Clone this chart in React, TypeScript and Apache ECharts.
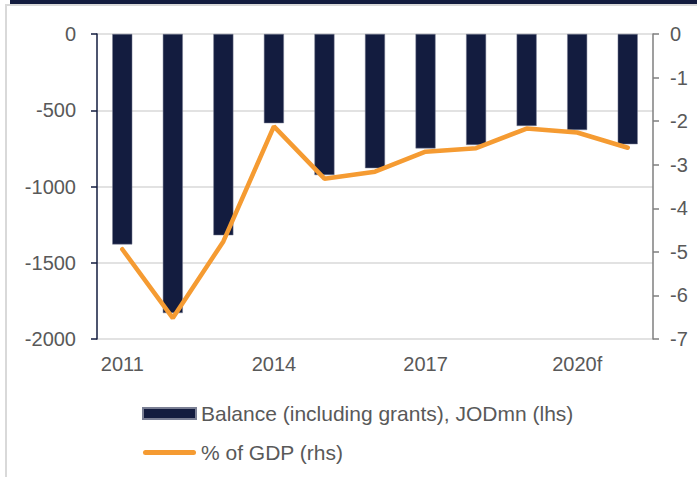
import React, { useEffect, useRef } from "react";
import * as echarts from "echarts";

const categories = ["2011", "2012", "2013", "2014", "2015", "2016", "2017", "2018", "2019", "2020f", "2021f"];
const balanceValues = [-1380, -1830, -1320, -585, -925, -880, -750, -728, -603, -630, -723];
const gdpShareValues = [-4.94, -6.52, -4.76, -2.12, -3.32, -3.16, -2.7, -2.62, -2.17, -2.26, -2.61];
const seriesNames = ["Balance (including grants), JODmn (lhs)", "% of GDP (rhs)"];

const NAVY = "#131c3f";
const ORANGE = "#f59b32";
const GREY_TEXT = "#595959";
const FONT = "'Liberation Sans', Arial, sans-serif";

export default function App() {
  const ref = useRef<HTMLDivElement>(null);

  useEffect(() => {
    if (!ref.current) return;
    const chart = echarts.init(ref.current, null, { renderer: "svg" });
    chart.setOption({
      animation: false,
      backgroundColor: "#ffffff",
      textStyle: { fontFamily: FONT },
      grid: { left: 97, right: 44, top: 34, bottom: 138, containLabel: false },
      graphic: [
        { type: "rect", shape: { x: 10, y: 0, width: 687, height: 4 }, style: { fill: NAVY }, silent: true },
        { type: "rect", shape: { x: 5, y: 4, width: 692, height: 2 }, style: { fill: "#d9d9d9" }, silent: true },
        { type: "rect", shape: { x: 5, y: 4, width: 2, height: 473 }, style: { fill: "#d9d9d9" }, silent: true },
      ],
      legend: {
        orient: "vertical",
        left: 142,
        top: 403,
        padding: 0,
        itemWidth: 53,
        itemHeight: 11,
        itemGap: 18,
        symbolKeepAspect: true,
        textStyle: { fontSize: 21, color: GREY_TEXT, fontFamily: FONT },
        data: [
          { name: seriesNames[0], icon: "rect" },
          {
            name: seriesNames[1],
            icon: "path://M2.5,0 H50.5 A2.5,2.5 0 0 1 50.5,5 H2.5 A2.5,2.5 0 0 1 2.5,0 Z",
            itemStyle: { color: ORANGE, borderWidth: 0 },
          },
        ],
      },
      xAxis: {
        type: "category",
        data: categories,
        boundaryGap: true,
        axisLine: { show: false },
        axisTick: { show: false },
        axisLabel: { interval: 2, fontSize: 20, color: GREY_TEXT, margin: 15, fontFamily: FONT },
      },
      yAxis: [
        {
          type: "value",
          min: -2000,
          max: 0,
          interval: 500,
          position: "left",
          axisLine: { show: true, lineStyle: { color: NAVY, width: 1.5 } },
          axisTick: { show: true, length: 6, lineStyle: { color: NAVY, width: 1.5 } },
          axisLabel: {
            fontSize: 20,
            color: GREY_TEXT,
            margin: 21,
            fontFamily: FONT,
            formatter: (v: number) => String(v),
          },
          splitLine: { show: true, lineStyle: { color: "#d9d9d9", width: 1.5 } },
        },
        {
          type: "value",
          min: -7,
          max: 0,
          interval: 1,
          position: "right",
          axisLine: { show: true, lineStyle: { color: "#7f7f7f", width: 1.5 } },
          axisTick: { show: true, length: 6, lineStyle: { color: "#7f7f7f", width: 1.5 } },
          axisLabel: {
            fontSize: 20,
            color: GREY_TEXT,
            margin: 17,
            fontFamily: FONT,
            formatter: (v: number) => String(v),
          },
          splitLine: { show: false },
        },
      ],
      series: [
        {
          name: seriesNames[0],
          type: "bar",
          yAxisIndex: 0,
          data: balanceValues,
          barWidth: 20,
          itemStyle: { color: NAVY, borderColor: "#7a7f94", borderWidth: 0.5 },
        },
        {
          name: seriesNames[1],
          type: "line",
          yAxisIndex: 1,
          data: gdpShareValues,
          symbol: "none",
          showSymbol: false,
          lineStyle: { color: ORANGE, width: 4.5, cap: "round" },
          itemStyle: { color: ORANGE },
          z: 3,
        },
      ],
    });
    return () => chart.dispose();
  }, []);

  return (
    <div
      ref={ref}
      style={{ position: "fixed", left: 0, top: 0, width: 697, height: 477 }}
    />
  );
}
